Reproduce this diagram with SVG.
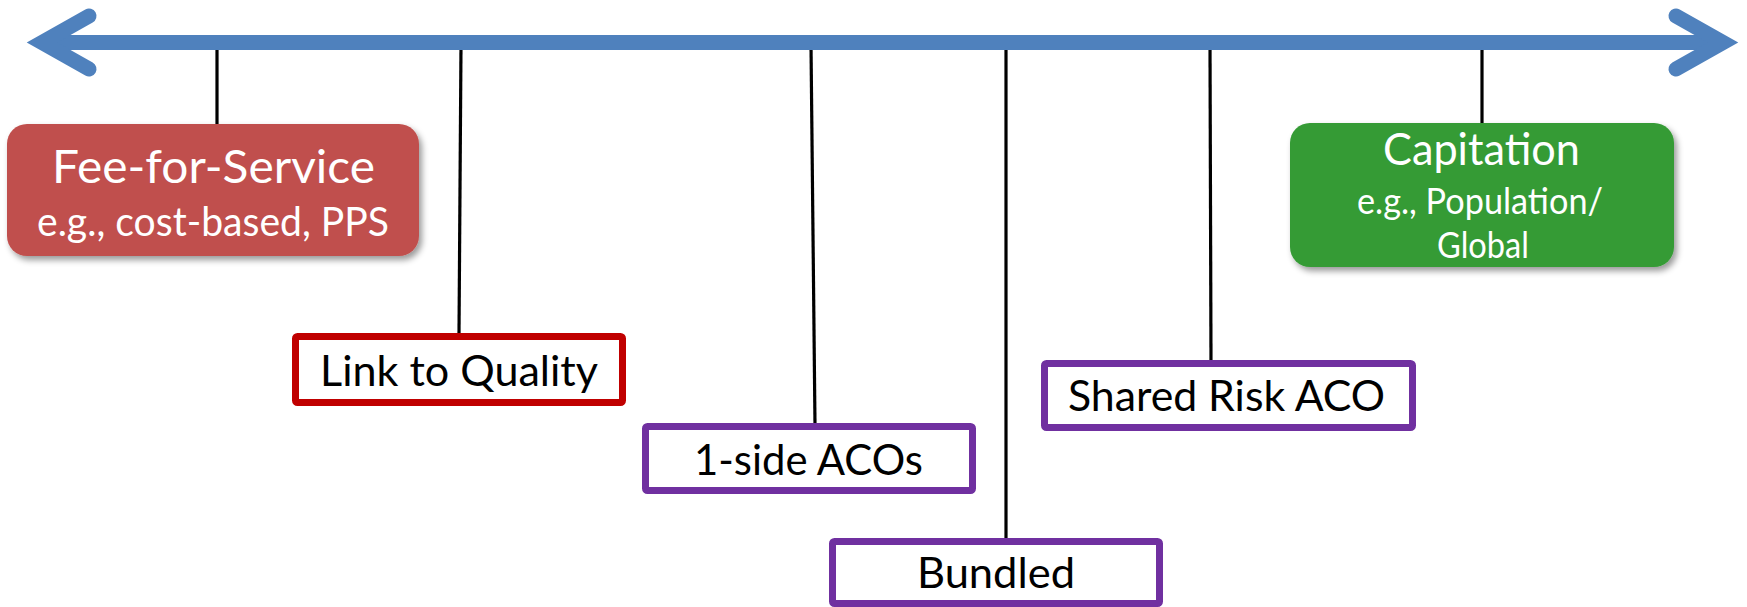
<svg xmlns="http://www.w3.org/2000/svg" width="1747" height="607" viewBox="0 0 1747 607">
  <style>
    .axis { fill: none; stroke: #4F81BD; stroke-width: 15; stroke-linecap: round; stroke-linejoin: miter; stroke-miterlimit: 10; }
    .shaft { fill: none; stroke: #4F81BD; stroke-width: 15; stroke-linecap: butt; }
    .tick { stroke: #000; stroke-width: 3.2; fill: none; }
    .box { fill: #fff; stroke-width: 7; }
    .red { stroke: #C00000; }
    .purple { stroke: #7030A0; }
    .lbl { font-family: Lato, "Liberation Sans", sans-serif; font-size: 42px; fill: #000; text-anchor: middle; }
    .wt { font-family: Lato, "Liberation Sans", sans-serif; fill: #fff; text-anchor: middle; }
  </style>
  <defs>
    <filter id="sh" x="-10%" y="-10%" width="125%" height="130%">
      <feDropShadow dx="3" dy="4" stdDeviation="3" flood-color="#000" flood-opacity="0.4"/>
    </filter>
  </defs>
  <rect width="1747" height="607" fill="#fff"/>
  <g id="connectors">
    <line class="tick" x1="217" y1="45" x2="217" y2="125"/>
    <line class="tick" x1="461" y1="45" x2="459" y2="334"/>
    <line class="tick" x1="811" y1="45" x2="815" y2="424"/>
    <line class="tick" x1="1006" y1="45" x2="1006" y2="539"/>
    <line class="tick" x1="1210" y1="45" x2="1211" y2="361"/>
    <line class="tick" x1="1482" y1="45" x2="1482" y2="124"/>
  </g>
  <g id="axis">
    <line class="shaft" x1="42" y1="42.5" x2="1723" y2="42.5"/>
    <polyline class="axis" points="89,16 42,42.5 89,69"/>
    <polyline class="axis" points="1676,16 1723,42.5 1676,69"/>
  </g>
  <g id="fee-for-service">
    <rect x="7" y="124" width="412" height="132" rx="20" fill="#C0504D" filter="url(#sh)"/>
    <text class="wt" x="213.5" y="183" font-size="46" textLength="323" lengthAdjust="spacingAndGlyphs">Fee-for-Service</text>
    <text class="wt" x="213" y="236" font-size="40" textLength="352" lengthAdjust="spacingAndGlyphs">e.g., cost-based, PPS</text>
  </g>
  <g id="capitation">
    <rect x="1290" y="123" width="384" height="144" rx="20" fill="#359B35" filter="url(#sh)"/>
    <text class="wt" x="1481.5" y="165" font-size="44" textLength="197" lengthAdjust="spacingAndGlyphs">Capitation</text>
    <text class="wt" x="1480" y="214" font-size="36" textLength="246" lengthAdjust="spacingAndGlyphs">e.g., Population/</text>
    <text class="wt" x="1483" y="258" font-size="36" textLength="92" lengthAdjust="spacingAndGlyphs">Global</text>
  </g>
  <g id="link-to-quality">
    <rect class="box red" x="295.5" y="336.5" width="327" height="66" rx="2"/>
    <text class="lbl" x="459" y="386" textLength="278" lengthAdjust="spacingAndGlyphs">Link to Quality</text>
  </g>
  <g id="one-side-acos">
    <rect class="box purple" x="645.5" y="426.5" width="327" height="64" rx="2"/>
    <text class="lbl" x="808.5" y="475" textLength="229" lengthAdjust="spacingAndGlyphs">1-side ACOs</text>
  </g>
  <g id="bundled">
    <rect class="box purple" x="832.5" y="541.5" width="327" height="62" rx="2"/>
    <text class="lbl" x="996" y="588" textLength="158" lengthAdjust="spacingAndGlyphs">Bundled</text>
  </g>
  <g id="shared-risk-aco">
    <rect class="box purple" x="1044.5" y="363.5" width="368" height="64" rx="2"/>
    <text class="lbl" x="1226.5" y="411" textLength="317" lengthAdjust="spacingAndGlyphs">Shared Risk ACO</text>
  </g>
</svg>
